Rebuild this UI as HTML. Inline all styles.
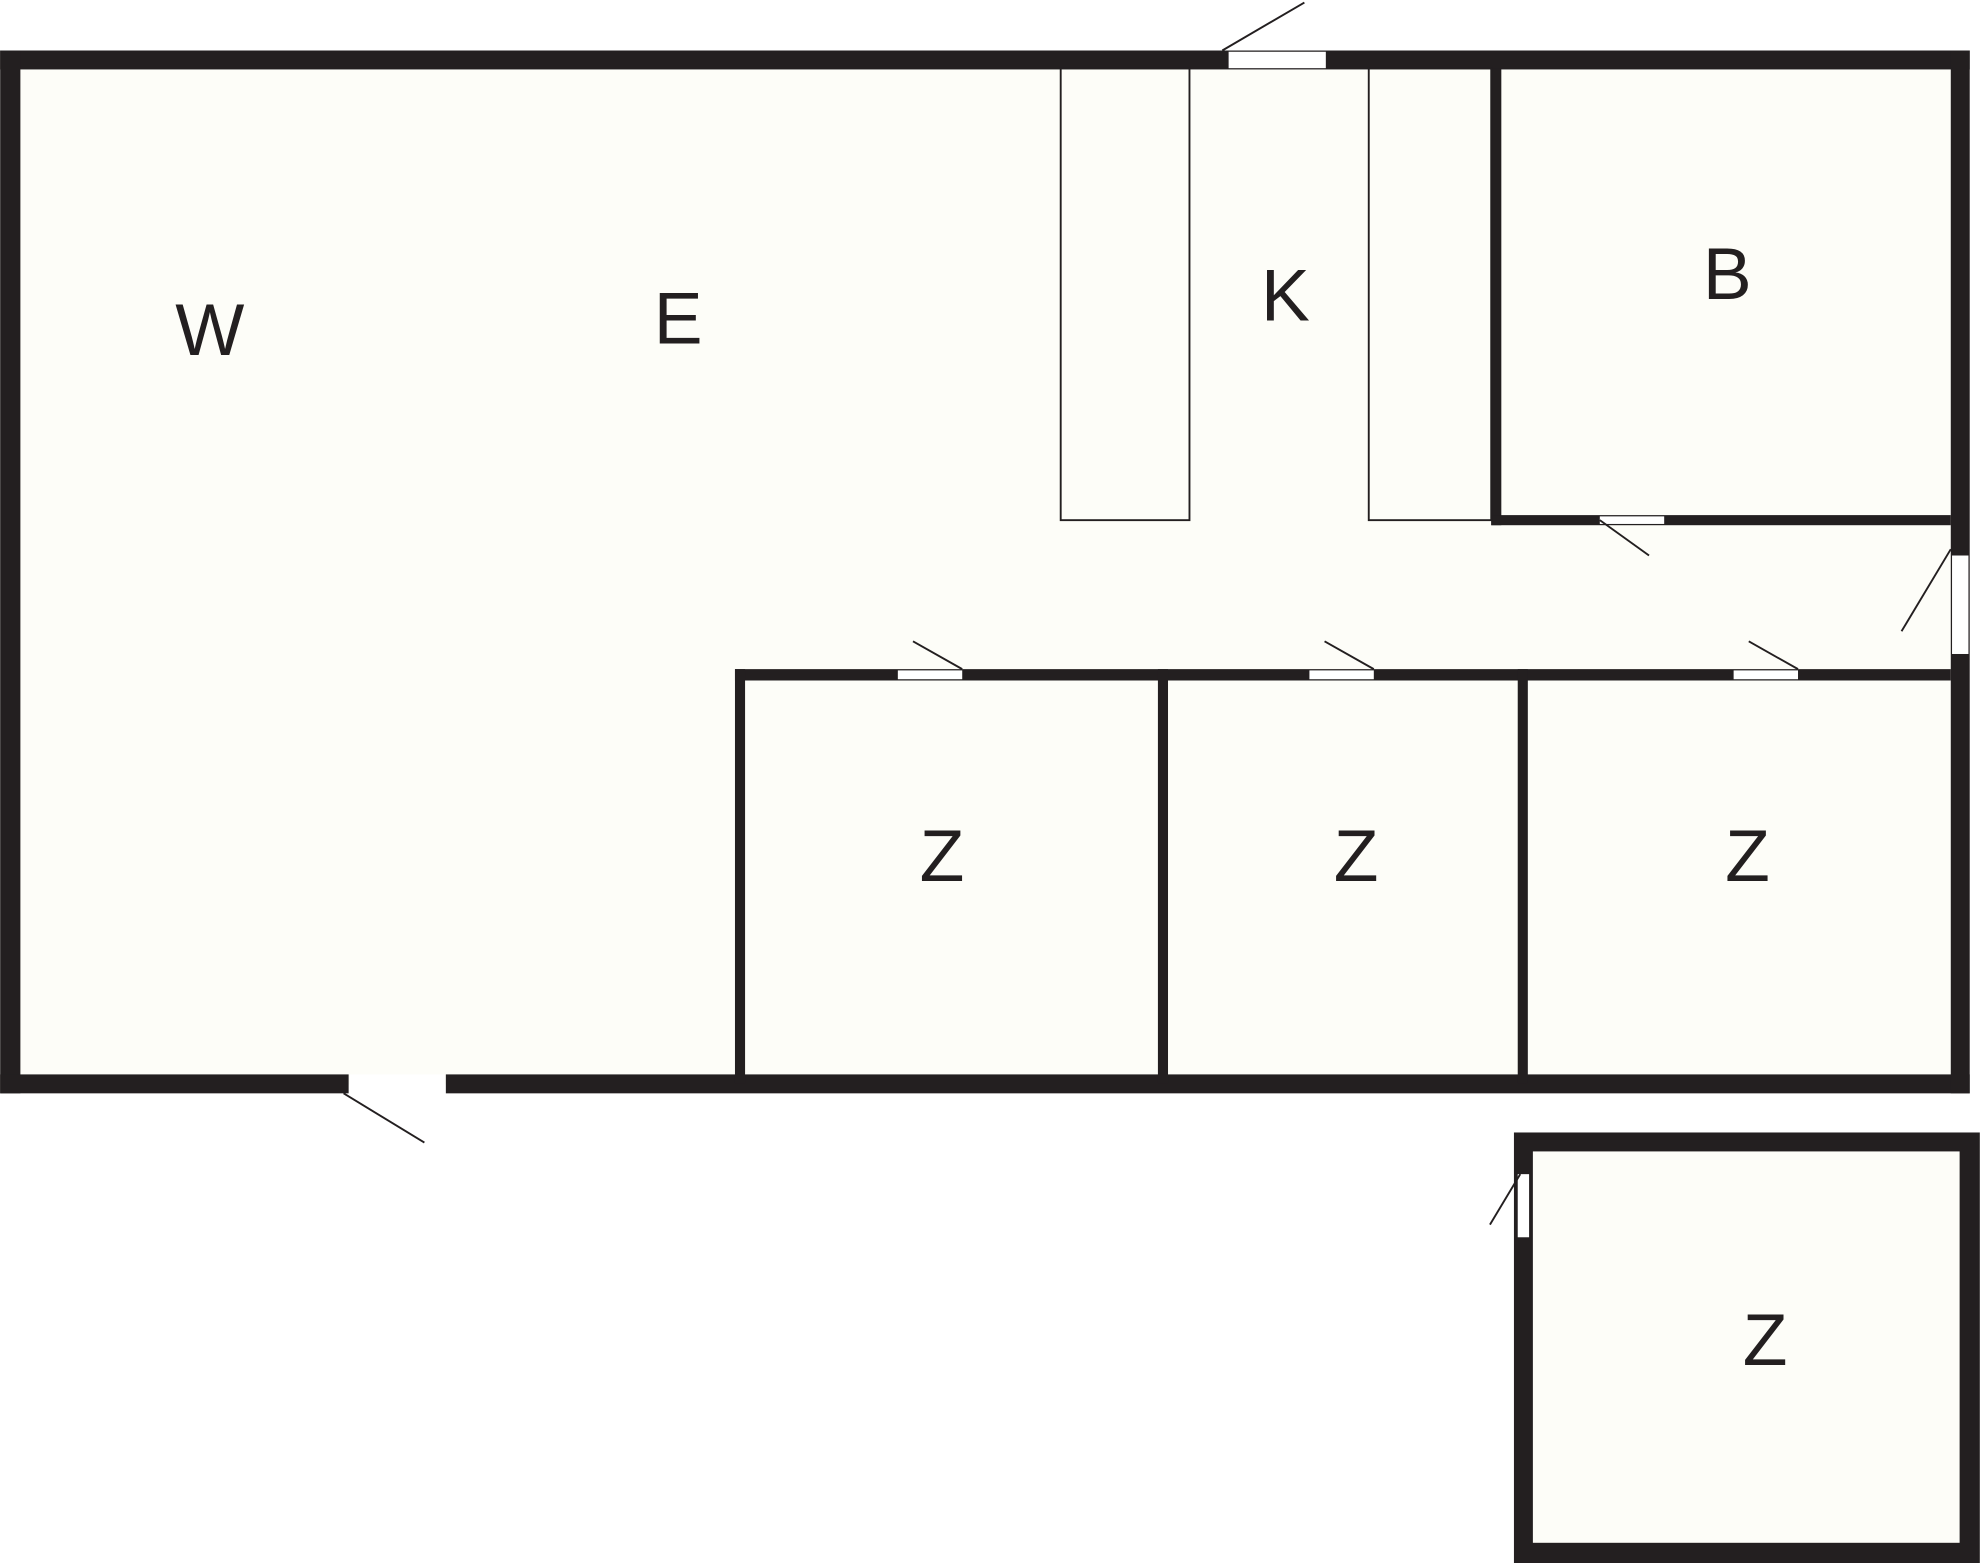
<!DOCTYPE html>
<html><head><meta charset="utf-8"><style>
html,body{margin:0;padding:0;background:#fff;}
svg{display:block;}
text{font-family:"Liberation Sans",sans-serif;fill:#231f20;font-size:58px;text-anchor:middle;}
</style></head><body>
<svg width="1980" height="1563" viewBox="0 0 1568 1238" xmlns="http://www.w3.org/2000/svg">
<rect width="1568" height="1238" fill="#fff"/>
<rect x="8" y="47" width="1545" height="812" fill="#fdfdf8"/>
<rect x="1206" y="904" width="354" height="326" fill="#fdfdf8"/>
<g fill="#231f20">
<rect x="0" y="40" width="1560" height="15"/>
<rect x="0" y="40" width="16" height="826"/>
<rect x="0" y="851" width="276" height="15"/>
<rect x="353" y="851" width="1207" height="15"/>
<rect x="1545" y="40" width="15" height="826"/>
<rect x="1181" y="54" width="8" height="362"/>
<rect x="1181" y="408" width="364" height="8"/>
<rect x="582" y="530" width="963" height="9"/>
<rect x="582" y="530" width="8" height="328"/>
<rect x="917" y="530" width="8" height="328"/>
<rect x="1202" y="530" width="8" height="328"/>
<rect x="1199" y="897" width="369" height="341"/>
</g>
<rect x="1214" y="912" width="338" height="310" fill="#fdfdf8"/>
<g fill="#fff">
<rect x="973" y="41" width="77" height="13"/>
<rect x="1267" y="409" width="51" height="6"/>
<rect x="711" y="531" width="51" height="7"/>
<rect x="1037" y="531" width="51" height="7"/>
<rect x="1373" y="531" width="51" height="7"/>
<rect x="1546" y="440" width="13" height="78"/>
<rect x="1202" y="930" width="9" height="50"/>
</g>
<rect x="277" y="851" width="75" height="15" fill="#fff"/>
<g fill="none" stroke="#231f20" stroke-width="1.5">
<rect x="840" y="54" width="102" height="358"/>
<rect x="1084" y="54" width="97" height="358"/>
</g>
<g stroke="#231f20" stroke-width="1.5">
<line x1="968" y1="40" x2="1033" y2="2"/>
<line x1="1267" y1="412" x2="1306" y2="440"/>
<line x1="723" y1="508" x2="762" y2="530"/>
<line x1="1049" y1="508" x2="1088" y2="530"/>
<line x1="1385" y1="508" x2="1424" y2="530"/>
<line x1="1506" y1="500" x2="1545" y2="435"/>
<line x1="272" y1="866" x2="336" y2="905"/>
<line x1="1180" y1="970" x2="1204" y2="930"/>
</g>
<text x="166" y="281">W</text>
<text x="537" y="272">E</text>
<text x="1018" y="254">K</text>
<text x="1368" y="237">B</text>
<text x="746" y="698">Z</text>
<text x="1074" y="698">Z</text>
<text x="1384" y="698">Z</text>
<text x="1398" y="1081">Z</text>
</svg>
</body></html>
